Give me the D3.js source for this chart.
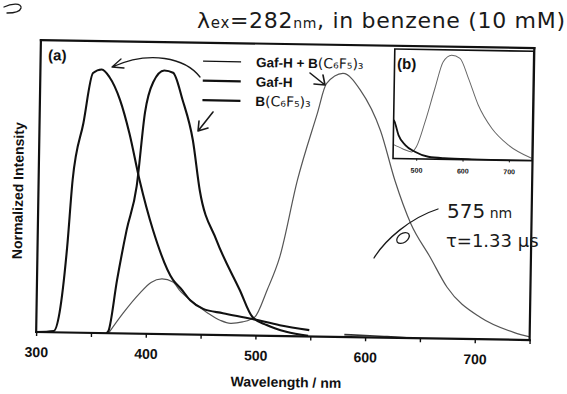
<!DOCTYPE html>
<html>
<head>
<meta charset="utf-8">
<script src="https://cdn.jsdelivr.net/npm/d3@7"></script>
<style>
  body { margin: 0; background: #fff; overflow: hidden; }
  svg { display: block; font-family: 'Liberation Sans', Arial, sans-serif; }
  .hand { font-family: 'DejaVu Sans', sans-serif; font-weight: normal; fill: #1a1a1a; }
  .ink { fill: none; stroke: #1a1a1a; stroke-width: 1.3; stroke-linecap: round; }
</style>
</head>
<body>
<div id="chart"></div>
<script>
// ---- panel (a): normalized emission spectra ----
const wlGafH = [300, 316, 321, 327, 331, 340, 348, 356, 363, 373, 382, 392, 405, 424, 431, 440, 452, 470, 497, 522, 549];
const gafH = [0, 0.005, 0.074, 0.324, 0.579, 0.796, 0.986, 1.0, 0.972, 0.886, 0.761, 0.583, 0.394, 0.206, 0.175, 0.13, 0.098, 0.083, 0.063, 0.041, 0.024];

const wlBorane = [364, 366, 373, 381, 389.5, 396, 403, 413, 421, 430, 440, 447, 463, 485, 497, 510, 528, 548];
const borane = [0, 0.01, 0.203, 0.393, 0.56, 0.84, 0.955, 1.0, 0.992, 0.89, 0.738, 0.549, 0.36, 0.172, 0.07, 0.041, 0.016, 0.002];

const wlMix = [366, 379, 394, 404, 414, 424, 430, 440, 446, 456, 468, 477, 488, 499, 510, 521, 536, 553, 561, 576, 592, 611, 625, 640, 658, 674, 705, 736, 750];
const mix = [0, 0.077, 0.154, 0.195, 0.209, 0.198, 0.168, 0.131, 0.112, 0.083, 0.055, 0.045, 0.051, 0.07, 0.174, 0.3, 0.593, 0.845, 0.96, 1.0, 0.938, 0.785, 0.595, 0.434, 0.309, 0.195, 0.082, 0.027, 0.012];

// short piece lying on the baseline around 600 nm
const wlBlip = [581, 600, 620, 638];
const blip = [0.009, 0.007, 0.004, 0.001];

// ---- panel (b): inset ----
const wlInsetMix = [450, 470, 490, 500, 518, 538, 555, 573, 591, 610, 632, 662, 698, 749];
const insetMix = [0.135, 0.095, 0.066, 0.115, 0.358, 0.68, 0.936, 1.0, 0.971, 0.78, 0.526, 0.305, 0.148, 0.024];
const wlInsetGafH = [450, 452, 461, 476, 497, 526, 560, 620, 750];
const insetGafH = [0.37, 0.353, 0.225, 0.13, 0.068, 0.022, 0.01, 0.004, 0];

const xTicks = [300, 350, 400, 450, 500, 550, 600, 650, 700, 750];
const insetTicks = [500, 600, 700];
const legendBold = ['Gaf-H + B', 'Gaf-H', 'B'];
const legendHand = ['(C\u2086F\u2085)\u2083', '', '(C\u2086F\u2085)\u2083'];

const W = 567, H = 394;

const svg = d3.select('#chart')
  .append('svg')
    .attr('width', W)
    .attr('height', H);

// the scan is slightly tilted, so the whole plot sits in a rotated group
const g = svg.append('g')
  .attr('transform', 'rotate(0.93,283,190)');

const x = d3.scaleLinear().domain([300, 750]).range([38.5, 532]);
const y = d3.scaleLinear().domain([0, 1.108]).range([336, 44]);

function series(wl, vals) {
  return wl.map((w, i) => ({ w: w, v: vals[i] }));
}

const line = d3.line()
  .x(d => x(d.w))
  .y(d => y(d.v))
  .curve(d3.curveMonotoneX);

// curves
g.append('path')
  .datum(series(wlMix, mix))
  .attr('fill', 'none')
  .attr('stroke', '#555')
  .attr('stroke-width', 1.2)
  .attr('d', line);

g.append('path')
  .datum(series(wlBlip, blip))
  .attr('fill', 'none')
  .attr('stroke', '#333')
  .attr('stroke-width', 1.6)
  .attr('d', line);

g.append('path')
  .datum(series(wlGafH, gafH))
  .attr('fill', 'none')
  .attr('stroke', '#111')
  .attr('stroke-width', 2.1)
  .attr('d', line);

g.append('path')
  .datum(series(wlBorane, borane))
  .attr('fill', 'none')
  .attr('stroke', '#111')
  .attr('stroke-width', 2.1)
  .attr('d', line);

// frame: left, top, right and the baseline
const frameSides = [
  [300, 0, 300, 1.108],
  [300, 1.108, 750, 1.108],
  [750, 1.108, 750, 0],
  [300, 0, 750, 0]
];
g.append('g')
  .selectAll('line')
  .data(frameSides)
  .join('line')
    .attr('x1', d => x(d[0])).attr('y1', d => y(d[1]))
    .attr('x2', d => x(d[2])).attr('y2', d => y(d[3]))
    .attr('stroke', '#111')
    .attr('stroke-width', 2.2)
    .attr('stroke-linecap', 'square');

const xAxis = d3.axisBottom(x)
  .tickValues(xTicks)
  .tickSize(4)
  .tickPadding(11)
  .tickFormat(d => (d % 100 === 0 && d < 750) ? d : '');

const ax = g.append('g')
  .attr('transform', 'translate(0,' + y(0) + ')')
  .call(xAxis);
ax.select('.domain').remove();
ax.selectAll('line').attr('stroke', '#111').attr('stroke-width', 1.4);
ax.selectAll('text')
  .attr('fill', '#111')
  .style('font-size', '14px')
  .style('font-weight', 'bold')
  .style('font-family', "'Liberation Sans', Arial, sans-serif");

g.append('text')
  .attr('x', 289)
  .attr('y', 387)
  .attr('text-anchor', 'middle')
  .style('font-size', '14px')
  .style('font-weight', 'bold')
  .attr('fill', '#111')
  .text('Wavelength / nm');

g.append('text')
  .attr('transform', 'translate(23,195) rotate(-90)')
  .attr('text-anchor', 'middle')
  .style('font-size', '14px')
  .style('font-weight', 'bold')
  .attr('fill', '#111')
  .text('Normalized Intensity');

g.append('text')
  .attr('x', 46)
  .attr('y', 64)
  .style('font-size', '15px')
  .style('font-weight', 'bold')
  .attr('fill', '#111')
  .text('(a)');

// legend
const legendY = [62.5, 82, 101.5];
const legendW = [1.3, 2.3, 2.3];
legendY.forEach((ly, i) => {
  g.append('line')
    .attr('x1', 201).attr('x2', 239)
    .attr('y1', ly).attr('y2', ly)
    .attr('stroke', '#111')
    .attr('stroke-width', legendW[i]);
  const t = g.append('text')
    .attr('x', 254)
    .attr('y', ly + 5)
    .attr('fill', '#111')
    .style('font-size', '13.5px');
  t.append('tspan').style('font-weight', 'bold').text(legendBold[i]);
  if (legendHand[i]) {
    t.append('tspan')
      .attr('class', 'hand')
      .style('font-size', '14px')
      .text(legendHand[i]);
  }
});

// ---- inset (b) ----
const xi = d3.scaleLinear().domain([450, 750]).range([392.5, 531.5]);
const yi = d3.scaleLinear().domain([0, 1.05]).range([156.7, 47.2]);

const inset = g.append('g');
inset.append('rect')
  .attr('x', xi(450)).attr('y', yi(1.05))
  .attr('width', xi(750) - xi(450))
  .attr('height', yi(0) - yi(1.05))
  .attr('fill', '#fff');

svg.append('defs').append('clipPath')
  .attr('id', 'insetClip')
  .append('rect')
    .attr('x', xi(450)).attr('y', yi(1.05))
    .attr('width', xi(750) - xi(450))
    .attr('height', yi(0) - yi(1.05));

const lineI = d3.line()
  .x(d => xi(d.w))
  .y(d => yi(d.v))
  .curve(d3.curveMonotoneX);

const curvesI = inset.append('g').attr('clip-path', 'url(#insetClip)');
curvesI.append('path')
  .datum(series(wlInsetMix, insetMix))
  .attr('fill', 'none')
  .attr('stroke', '#666')
  .attr('stroke-width', 1)
  .attr('d', lineI);
curvesI.append('path')
  .datum(series(wlInsetGafH, insetGafH))
  .attr('fill', 'none')
  .attr('stroke', '#111')
  .attr('stroke-width', 1.8)
  .attr('d', lineI);

inset.append('rect')
  .attr('x', xi(450)).attr('y', yi(1.05))
  .attr('width', xi(750) - xi(450))
  .attr('height', yi(0) - yi(1.05))
  .attr('fill', 'none')
  .attr('stroke', '#111')
  .attr('stroke-width', 1.6);

const axI = inset.append('g')
  .attr('transform', 'translate(0,' + yi(0) + ')')
  .call(d3.axisBottom(xi).tickValues(insetTicks).tickSize(2).tickPadding(7));
axI.select('.domain').remove();
axI.selectAll('line').attr('stroke', '#111');
axI.selectAll('text')
  .attr('fill', '#111')
  .style('font-size', '7px')
  .style('font-weight', 'bold')
  .style('font-family', "'Liberation Sans', Arial, sans-serif");

inset.append('text')
  .attr('x', 395)
  .attr('y', 67)
  .style('font-size', '15px')
  .style('font-weight', 'bold')
  .attr('fill', '#111')
  .text('(b)');

// ---- handwritten notes on the scan ----
const notes = svg.append('g');

const topNote = notes.append('text')
  .attr('class', 'hand')
  .attr('x', 197)
  .attr('y', 28)
  .attr('textLength', 368)
  .attr('lengthAdjust', 'spacing')
  .style('font-size', '22px');
topNote.append('tspan').text('\u03bb');
topNote.append('tspan').style('font-size', '15px').text('ex');
topNote.append('tspan').text('=282');
topNote.append('tspan').style('font-size', '14px').text('nm');
topNote.append('tspan').text(',  in  benzene  (10 mM)');

notes.append('path').attr('class', 'ink')
  .attr('d', 'M4,7 C12,3 22,3 21,8 C20,12 14,13 7,13');

notes.append('text')
  .attr('class', 'hand')
  .attr('x', 447)
  .attr('y', 218)
  .style('font-size', '20px')
  .text('575')
  .append('tspan')
    .style('font-size', '14px')
    .text(' nm');

notes.append('text')
  .attr('class', 'hand')
  .attr('x', 446)
  .attr('y', 247)
  .style('font-size', '18px')
  .text('\u03c4=1.33 \u03bcs');

// arrows drawn by hand
notes.append('path').attr('class', 'ink')
  .attr('d', 'M200,77 C185,58 150,50 112,67 M112,67 L121,59 M112,67 L124,68');
notes.append('path').attr('class', 'ink').style('stroke-width', 1.6)
  .attr('d', 'M213,112 L198,131 M198,131 L199,121 M198,131 L208,128');
notes.append('path').attr('class', 'ink').style('stroke-width', 1.6)
  .attr('d', 'M310,73 L325,85 M325,85 L314,84 M325,85 L323,75');
notes.append('path').attr('class', 'ink')
  .attr('d', 'M374,258 C385,240 410,218 438,209');
notes.append('ellipse').attr('class', 'ink')
  .attr('cx', 403).attr('cy', 238).attr('rx', 7).attr('ry', 4.5)
  .attr('transform', 'rotate(-35,403,238)');
</script>
</body>
</html>
